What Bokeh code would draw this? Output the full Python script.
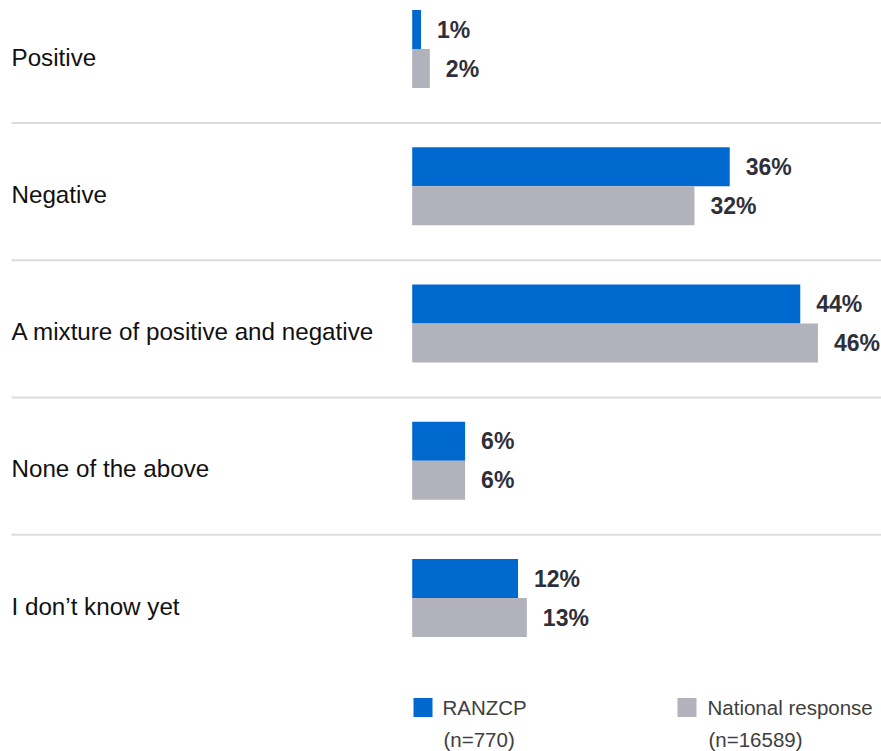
from bokeh.plotting import figure
from bokeh.models import Range1d
from bokeh.core.properties import value
from bokeh.embed import file_html
from bokeh.resources import INLINE

# ---- data ----
categories = ["Positive", "Negative", "A mixture of positive and negative",
              "None of the above", "I don\u2019t know yet"]
ranzcp = [1, 36, 44, 6, 12]
national = [2, 32, 46, 6, 13]
series_names = ["RANZCP", "National response"]
series_counts = ["(n=770)", "(n=16589)"]
colors = ["#0069CF", "#B2B2BC"]

# ---- layout constants (pixels inside the figure) ----
W, H = 881, 751
BAR_X0 = 411.7          # pixel where value 0 sits
PX_PER_PCT = 8.82
ROW0 = 48.5             # pixel centre of first category group
ROW_STEP = 137.25
BAR_PX = 39.0

def px_x(px):
    return (px - BAR_X0) / PX_PER_PCT

def px_y(px):
    return (px - ROW0) / ROW_STEP

p = figure(width=W, height=H,
           x_range=Range1d(px_x(0), px_x(W)),
           y_range=Range1d(px_y(H), px_y(0)),
           output_backend="svg", toolbar_location=None,
           x_axis_location=None, y_axis_location=None,
           min_border=0)
p.grid.visible = False
p.outline_line_color = None
p.background_fill_color = "white"

FONT = value("Liberation Sans")
bh = BAR_PX / ROW_STEP
idx = list(range(len(categories)))

# separators
sep_y = [i + 0.54 for i in idx[:-1]]
p.segment(x0=[px_x(11)] * len(sep_y), x1=[px_x(W)] * len(sep_y),
          y0=sep_y, y1=sep_y, line_color="#DCDCDC", line_width=2)

y_r = [i - bh / 2 for i in idx]
y_n = [i + bh / 2 for i in idx]

p.hbar(y=y_r, left=0, right=ranzcp, height=bh, color=colors[0], line_color=None)
p.hbar(y=y_n, left=0, right=national, height=bh, color=colors[1], line_color=None)

p.text(x=ranzcp, y=y_r, text=[f"{v}%" for v in ranzcp], x_offset=16,
       text_baseline="middle", text_align="left", text_font=FONT,
       text_font_style="bold", text_font_size="23px", text_color="#2F2F3A")
p.text(x=national, y=y_n, text=[f"{v}%" for v in national], x_offset=16,
       text_baseline="middle", text_align="left", text_font=FONT,
       text_font_style="bold", text_font_size="23px", text_color="#2F2F3A")

# category labels
p.text(x=[px_x(11)] * len(categories), y=[i + 8 / ROW_STEP for i in idx],
       text=categories, text_baseline="middle", text_align="left",
       text_font=FONT, text_font_size="24.2px", text_color="#111111")

# legend
leg_sq_x = [px_x(422.5), px_x(686.5)]
leg_y1 = px_y(707)
leg_y2 = px_y(739)
p.rect(x=leg_sq_x, y=[leg_y1] * 2, width=19, height=19,
       width_units="screen", height_units="screen", color=colors, line_color=None)
p.text(x=[px_x(442), px_x(707)], y=[leg_y1] * 2, text=series_names,
       text_baseline="middle", text_align="left", text_font=FONT,
       text_font_size="20.5px", text_color="#404040")
p.text(x=[px_x(443), px_x(708)], y=[leg_y2] * 2, text=series_counts,
       text_baseline="middle", text_align="left", text_font=FONT,
       text_font_size="20.5px", text_color="#404040")

open("out.html", "w").write(file_html(p, INLINE))
